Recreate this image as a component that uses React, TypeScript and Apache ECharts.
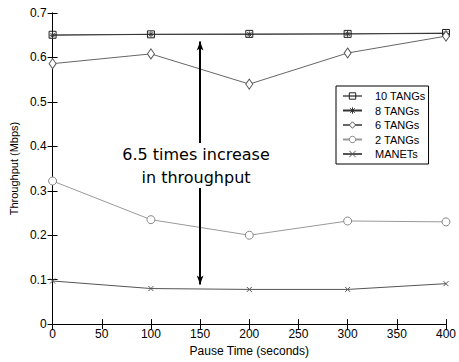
import React, { useEffect, useRef } from "react";
import * as echarts from "echarts";

const pauseTimes = [0, 100, 200, 300, 400];
const tang10 = [0.651, 0.652, 0.653, 0.653, 0.655];
const tang8 = [0.65, 0.652, 0.652, 0.653, 0.654];
const tang6 = [0.586, 0.608, 0.54, 0.61, 0.648];
const tang2 = [0.322, 0.235, 0.2, 0.232, 0.23];
const manets = [0.097, 0.08, 0.078, 0.078, 0.091];
const arrowEnds = [0.636, 0.089];
const arrowX = 150;
const seriesNames = ["10 TANGs", "8 TANGs", "6 TANGs", "2 TANGs", "MANETs"];

const FONT = "Liberation Sans";

const markerStyles: Record<string, any> = {
  "10 TANGs": { color: "rgba(255,255,255,0)", borderColor: "#222", borderWidth: 1 },
  "8 TANGs": { color: "rgba(255,255,255,0)", borderColor: "#333", borderWidth: 1 },
  "6 TANGs": { color: "#fff", borderColor: "#555", borderWidth: 1 },
  "2 TANGs": { color: "#fff", borderColor: "#888", borderWidth: 1 },
  MANETs: { color: "rgba(255,255,255,0)", borderColor: "#555", borderWidth: 1 },
};

export default function App() {
  const ref = useRef<HTMLDivElement>(null);
  useEffect(() => {
    if (!ref.current) return;
    const chart = echarts.init(ref.current, undefined, { renderer: "svg" });
    const pair = (arr: number[]) => pauseTimes.map((x, i) => [x, arr[i]]);
    const axisCommon = {
      type: "value" as const,
      axisLine: { show: true, lineStyle: { color: "#000", width: 1 } },
      axisTick: { show: true, inside: true, length: 5, lineStyle: { color: "#000" } },
      splitLine: { show: false },
    };
    const option: any = {
      animation: false,
      backgroundColor: "#fff",
      grid: { left: 51, right: 9, top: 13, bottom: 35 },
      xAxis: [
        {
          ...axisCommon,
          min: 0,
          max: 400,
          interval: 50,
          position: "bottom",
          name: "Pause Time (seconds)",
          nameLocation: "middle",
          nameGap: 20,
          nameTextStyle: { fontFamily: FONT, fontSize: 12, color: "#000" },
          axisLabel: { fontFamily: FONT, fontSize: 12, color: "#000", margin: 4 },
        },
        {
          ...axisCommon,
          min: 0,
          max: 400,
          interval: 50,
          position: "top",
          axisLabel: { show: false },
        },
      ],
      yAxis: [
        {
          ...axisCommon,
          min: 0,
          max: 0.7,
          interval: 0.1,
          position: "left",
          name: "Throughput (Mbps)",
          nameLocation: "middle",
          nameGap: 30,
          nameTextStyle: { fontFamily: FONT, fontSize: 11, color: "#000" },
          axisLabel: { fontFamily: FONT, fontSize: 12, color: "#000", margin: 6 },
        },
        {
          ...axisCommon,
          min: 0,
          max: 0.7,
          interval: 0.1,
          position: "right",
          axisLabel: { show: false },
        },
      ],
      legend: {
        data: seriesNames.map((n) => ({ name: n, itemStyle: markerStyles[n] })),
        orient: "vertical",
        left: 336,
        top: 86,
        padding: [4, 3, 4, 6],
        itemWidth: 19,
        itemHeight: 8,
        itemGap: 2.5,
        backgroundColor: "#fff",
        borderColor: "#000",
        borderWidth: 1,
        borderRadius: 0,
        textStyle: {
          fontFamily: FONT,
          fontSize: 11,
          lineHeight: 12,
          color: "#000",
          padding: [0, 0, 0, 8],
        },
      },
      series: [
        {
          name: "10 TANGs",
          type: "line",
          data: pair(tang10),
          symbol: "rect",
          symbolSize: 7,
          lineStyle: { color: "#7a7a7a", width: 1 },
          itemStyle: markerStyles["10 TANGs"],
        },
        {
          name: "8 TANGs",
          type: "line",
          data: pair(tang8),
          symbol: "path://M5,0L5,10M0,5L10,5M1.5,1.5L8.5,8.5M1.5,8.5L8.5,1.5",
          symbolSize: 6,
          lineStyle: { color: "#333", width: 1 },
          itemStyle: markerStyles["8 TANGs"],
        },
        {
          name: "6 TANGs",
          type: "line",
          data: pair(tang6),
          symbol: "diamond",
          symbolSize: [7, 10],
          lineStyle: { color: "#666", width: 1 },
          itemStyle: markerStyles["6 TANGs"],
        },
        {
          name: "2 TANGs",
          type: "line",
          data: pair(tang2),
          symbol: "circle",
          symbolSize: 8,
          lineStyle: { color: "#999", width: 1 },
          itemStyle: markerStyles["2 TANGs"],
        },
        {
          name: "MANETs",
          type: "line",
          data: pair(manets),
          symbol: "path://M0,0L10,10M0,10L10,0",
          symbolSize: 5,
          lineStyle: { color: "#555", width: 1 },
          itemStyle: markerStyles["MANETs"],
          markLine: {
            silent: true,
            symbol: ["arrow", "arrow"],
            symbolSize: [5, 9],
            label: { show: false },
            lineStyle: { color: "#000", width: 2, type: "solid" },
            data: [[{ coord: [arrowX, arrowEnds[0]] }, { coord: [arrowX, arrowEnds[1]] }]],
          },
        },
      ],
      graphic: [
        {
          type: "rect",
          z: 100,
          shape: { x: 120, y: 143, width: 152, height: 45 },
          style: { fill: "#fff" },
        },
        {
          type: "text",
          z: 101,
          x: 196,
          y: 166,
          style: {
            text: "6.5 times increase\nin throughput",
            fontFamily: "DejaVu Sans",
            fontSize: 16,
            lineHeight: 23,
            fill: "#000",
            align: "center",
            verticalAlign: "middle",
          },
        },
      ],
    };
    chart.setOption(option);
    return () => chart.dispose();
  }, []);
  return (
    <div
      ref={ref}
      style={{ position: "fixed", left: 0, top: 0, width: 459, height: 362 }}
    />
  );
}
